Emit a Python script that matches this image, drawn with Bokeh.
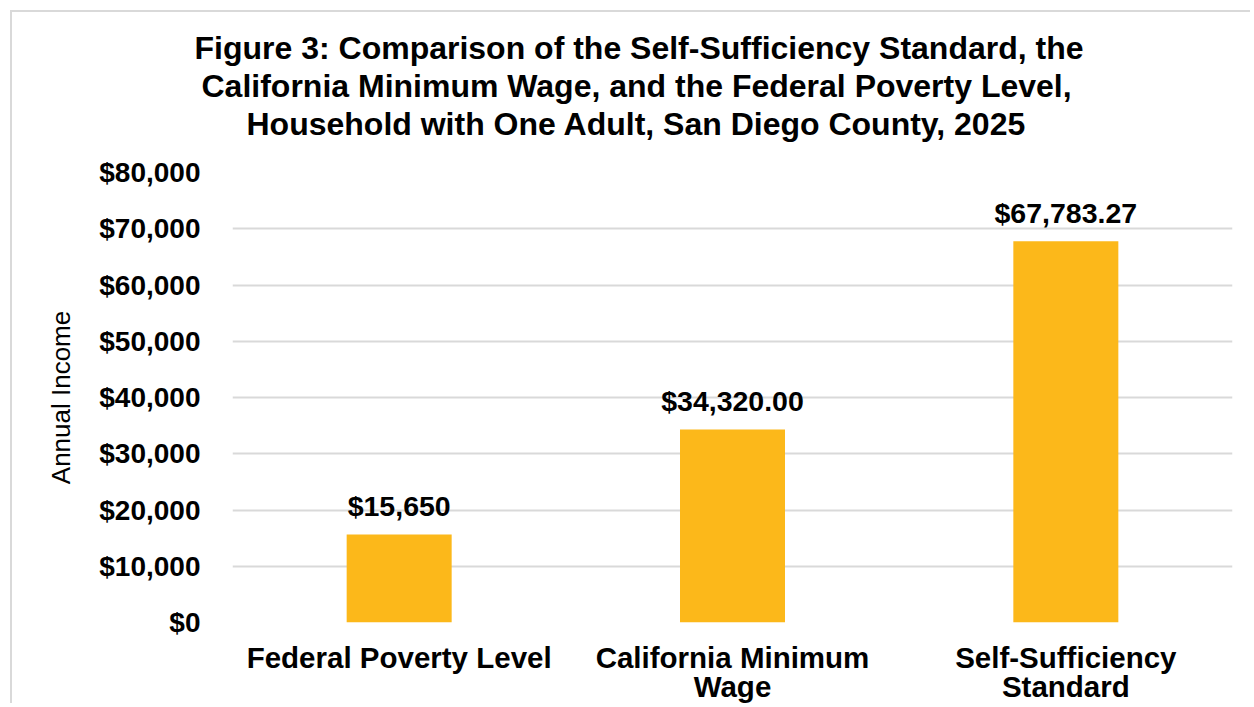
from bokeh.plotting import figure
from bokeh.models import (ColumnDataSource, NumeralTickFormatter, FixedTicker,
                          CategoricalAxis, FactorRange, Title)
from bokeh.embed import file_html
from bokeh.resources import INLINE
from bokeh.core.properties import value

categories = ["Federal Poverty Level", "California Minimum Wage", "Self-Sufficiency Standard"]
label_line1 = ["Federal Poverty Level", "California Minimum", "Self-Sufficiency"]
label_line2 = ["", "Wage", "Standard"]
incomes = [15650.00, 34320.00, 67783.27]
value_labels = ["$15,650", "$34,320.00", "$67,783.27"]
y_ticks = [0, 10000, 20000, 30000, 40000, 50000, 60000, 70000, 80000]
title_lines = ["Figure 3: Comparison of the Self-Sufficiency Standard, the",
               "California Minimum Wage, and the Federal Poverty Level,",
               "Household with One Adult, San Diego County, 2025"]
y_label = "Annual Income"

FONT = "Liberation Sans"
BAR = "#FCB81A"
GRID = "#D9D9D9"

src = ColumnDataSource(dict(cat=categories, val=incomes, lab=value_labels))

p = figure(x_range=categories, y_range=(0, 80000), width=1240, height=693,
           output_backend="svg", toolbar_location=None,
           min_border_left=220, min_border_right=20, min_border_top=160, min_border_bottom=83,
           margin=(10, 0, 0, 10))
p.styles = {"border-left": "2px solid #D9D9D9", "border-top": "2px solid #D9D9D9"}
p.outline_line_color = None
p.background_fill_color = "white"
p.border_fill_color = "white"

p.vbar(x="cat", top="val", width=0.315, source=src, fill_color=BAR, line_color=None)
p.text(x="cat", y="val", text="lab", source=src, text_align="center",
       text_baseline="alphabetic", y_offset=-28, text_font=value(FONT),
       text_font_style="bold", text_font_size="28.5px", text_color="black")

p.xgrid.grid_line_color = None
p.ygrid.grid_line_color = GRID
p.ygrid.grid_line_width = 2

p.yaxis.ticker = FixedTicker(ticks=y_ticks)
p.yaxis.formatter = NumeralTickFormatter(format="$0,0")
p.yaxis.axis_line_color = None
p.yaxis.major_tick_line_color = None
p.yaxis.minor_tick_line_color = None
p.yaxis.major_tick_out = 0
p.yaxis.minor_tick_out = 0
p.yaxis.major_label_standoff = 32
p.yaxis.major_label_text_font = FONT
p.yaxis.major_label_text_font_style = "bold"
p.yaxis.major_label_text_font_size = "28px"
p.yaxis.major_label_text_color = "black"
p.yaxis.axis_label = y_label
p.yaxis.axis_label_text_font = FONT
p.yaxis.axis_label_text_font_style = "normal"
p.yaxis.axis_label_text_font_size = "26px"
p.yaxis.axis_label_text_color = "black"
p.yaxis.axis_label_standoff = 20

# category labels: two stacked axes over ranges that share the category spacing
p.xaxis.visible = False
p.extra_x_ranges = {"line1": FactorRange(factors=label_line1),
                    "line2": FactorRange(factors=label_line2)}


def make_xaxis(name, standoff):
    ax = CategoricalAxis(x_range_name=name)
    ax.axis_line_color = None
    ax.major_tick_line_color = None
    ax.minor_tick_line_color = None
    ax.major_tick_out = 0
    ax.major_tick_in = 0
    ax.major_label_standoff = standoff
    ax.major_label_text_font = FONT
    ax.major_label_text_font_style = "bold"
    ax.major_label_text_font_size = "29.5px"
    ax.major_label_text_color = "black"
    return ax


p.add_layout(make_xaxis("line1", 18), "below")
p.add_layout(make_xaxis("line2", -7), "below")


def style_title(t, offset, standoff, size="32px"):
    t.align = "left"
    t.offset = offset
    t.standoff = standoff
    t.text_font = FONT
    t.text_font_style = "bold"
    t.text_font_size = size
    t.text_color = "black"


# title lines: added panels stack outward from the frame, figure title is outermost
p.title.text = title_lines[0]
style_title(p.title, -38, 0)
spacer = Title(text=" ")
style_title(spacer, 0, 28, size="1px")
p.add_layout(spacer, "above")
t3 = Title(text=title_lines[2])
style_title(t3, 14, 0)
p.add_layout(t3, "above")
t2 = Title(text=title_lines[1])
style_title(t2, -31, 0)
p.add_layout(t2, "above")

open("out.html", "w").write(file_html(p, INLINE))
